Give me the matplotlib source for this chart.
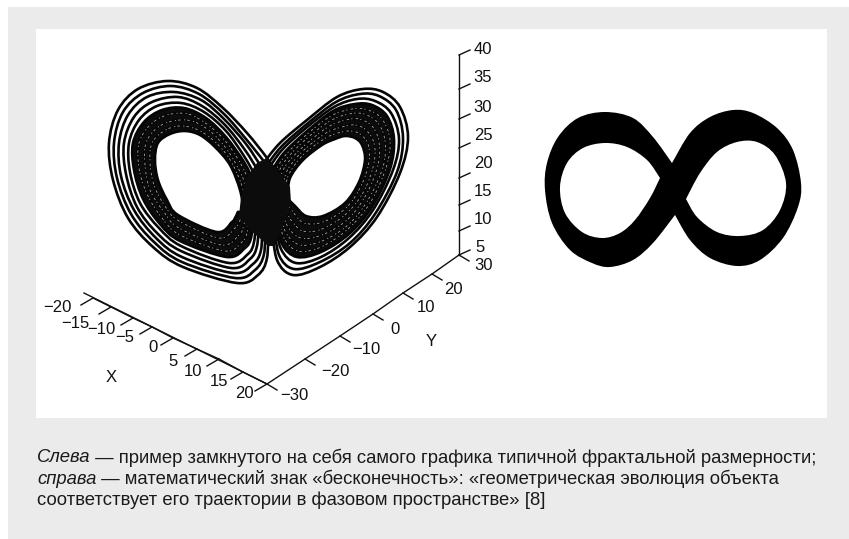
#!/usr/bin/env python
"""Lorenz-style attractor next to an infinity sign, with a Russian caption."""
import matplotlib
matplotlib.use("Agg")
import matplotlib.pyplot as plt
from matplotlib.patches import PathPatch, Polygon, Rectangle
from matplotlib.path import Path

# everything below is read off the picture, in picture pixels
# rings run outer -> inner, each row is one ring
left_x = [
    [268, 267, 258, 237, 183, 153, 128, 113, 109, 118, 138, 168, 197, 223, 247, 267, 282],
    [265, 264, 255, 235, 182, 154, 131, 117, 114, 123, 143, 171, 199, 224, 246, 265, 278],
    [262, 261, 253, 233, 182, 156, 134, 121, 119, 128, 147, 174, 201, 224, 246, 262, 273],
    [259, 257, 250, 231, 181, 157, 137, 126, 124, 134, 152, 178, 202, 225, 245, 260, 269],
    [256, 254, 248, 229, 181, 159, 140, 130, 129, 139, 157, 181, 204, 226, 244, 257, 264],
    [253, 251, 245, 227, 180, 160, 143, 134, 133, 144, 162, 184, 206, 226, 244, 255, 260],
    [249, 247, 242, 225, 180, 162, 147, 139, 139, 150, 167, 188, 208, 227, 243, 252, 255],
    [246, 243, 239, 222, 179, 164, 150, 145, 146, 157, 173, 192, 211, 228, 242, 249, 249],
    [242, 239, 235, 219, 179, 165, 154, 150, 152, 164, 179, 196, 213, 229, 241, 246, 243],
    [238, 235, 232, 217, 178, 167, 158, 155, 158, 170, 185, 200, 215, 230, 240, 243, 238],
]
left_y = [
    [225, 258, 275, 283, 267, 247, 218, 180, 143, 110, 89, 81, 88, 108, 133, 158, 180],
    [224, 254, 270, 278, 262, 242, 214, 178, 143, 112, 93, 86, 94, 114, 139, 163, 183],
    [222, 250, 264, 273, 257, 238, 210, 176, 143, 115, 97, 92, 100, 119, 144, 168, 186],
    [221, 246, 259, 268, 251, 233, 207, 174, 143, 117, 102, 97, 106, 125, 150, 174, 190],
    [220, 242, 254, 263, 246, 228, 203, 172, 143, 120, 106, 103, 112, 131, 156, 179, 193],
    [218, 238, 248, 257, 241, 224, 199, 170, 143, 122, 110, 108, 118, 137, 162, 184, 196],
    [217, 233, 242, 251, 235, 218, 194, 168, 143, 125, 115, 114, 125, 143, 168, 190, 200],
    [215, 228, 235, 245, 228, 212, 190, 165, 143, 128, 121, 121, 132, 151, 176, 197, 204],
    [214, 223, 228, 238, 221, 206, 185, 162, 143, 131, 126, 129, 140, 158, 183, 204, 208],
    [212, 218, 222, 232, 215, 200, 180, 160, 143, 134, 131, 135, 147, 165, 190, 210, 212],
]
right_x = [
    [272, 277, 293, 320, 350, 377, 400, 408, 400, 383, 363, 337, 307, 280, 262],
    [274, 279, 294, 320, 350, 375, 397, 403, 396, 379, 360, 336, 307, 281, 265],
    [275, 281, 296, 321, 349, 373, 393, 399, 391, 375, 357, 334, 306, 282, 267],
    [277, 282, 297, 321, 349, 372, 390, 394, 387, 372, 355, 333, 306, 283, 270],
    [278, 284, 298, 321, 348, 370, 386, 390, 382, 368, 352, 331, 305, 284, 272],
    [280, 286, 300, 322, 348, 368, 383, 385, 378, 364, 349, 330, 305, 285, 275],
    [281, 288, 301, 322, 347, 366, 378, 379, 372, 359, 346, 328, 305, 286, 278],
    [283, 291, 303, 322, 346, 364, 374, 374, 366, 355, 342, 326, 304, 288, 282],
    [285, 293, 304, 323, 346, 361, 369, 368, 360, 350, 338, 324, 303, 289, 285],
    [287, 295, 306, 323, 345, 359, 365, 362, 355, 345, 335, 322, 303, 290, 288],
]
right_y = [
    [225, 260, 275, 267, 247, 217, 173, 137, 107, 92, 89, 97, 120, 143, 165],
    [222, 255, 269, 262, 243, 214, 172, 138, 110, 96, 94, 102, 124, 147, 168],
    [220, 249, 263, 257, 238, 210, 170, 139, 113, 101, 99, 107, 128, 150, 171],
    [217, 244, 257, 252, 234, 207, 169, 139, 116, 105, 104, 111, 132, 154, 174],
    [214, 238, 251, 247, 229, 203, 168, 140, 119, 110, 109, 116, 136, 157, 177],
    [212, 233, 245, 241, 225, 200, 167, 141, 123, 114, 114, 121, 140, 161, 180],
    [208, 227, 238, 235, 220, 195, 165, 142, 126, 119, 120, 127, 145, 165, 184],
    [205, 220, 231, 229, 214, 191, 163, 143, 130, 125, 127, 133, 150, 169, 188],
    [201, 212, 223, 222, 208, 186, 162, 144, 134, 131, 133, 139, 155, 174, 191],
    [198, 206, 216, 216, 203, 182, 160, 145, 138, 136, 139, 145, 160, 178, 195],
]
# dark knot where the two lobes cross
center_knot = [(267, 158), (277, 170), (290, 187), (291, 203), (282, 228), (274, 246), (268, 246), (262, 240),
               (252, 232), (239, 216), (241, 197), (247, 177), (257, 163)]

# infinity sign: two outline halves between the crossing points, then the holes
inf_left = [(672, 163), (653, 137), (633, 118), (605, 112), (578, 118), (558, 137), (547, 163), (545, 190),
            (552, 223), (570, 250), (592, 263), (610, 267), (633, 260), (653, 243), (675, 215)]
inf_right = [(675, 215), (690, 240), (710, 258), (737, 266), (760, 260), (783, 238), (798, 207), (801, 183),
             (793, 150), (777, 128), (753, 113), (733, 110), (710, 117), (690, 133), (672, 163)]
hole_left = [(660, 178), (647, 160), (627, 147), (605, 143), (583, 148), (567, 163), (560, 187), (565, 213),
             (582, 232), (602, 238), (620, 233), (635, 220), (650, 198), (660, 178)]
hole_right = [(686, 199), (700, 173), (717, 152), (737, 142), (757, 142), (775, 155), (786, 183), (780, 210),
              (763, 230), (740, 236), (717, 232), (697, 217), (686, 199)]

x_ticks = [(93, 298), (111, 307), (133, 318), (152, 327), (173, 338), (197, 349), (219, 359), (243, 372), (267, 384)]
x_labels = ["\u221220", "\u221215", "\u221210", "\u22125", "0", "5", "10", "15", "20"]
x_label_pos = [(57, 307), (75, 323), (101, 330), (125, 338), (153, 348), (173, 361), (193, 371), (219, 382), (244, 394)]
y_ticks = [(267, 384), (305, 359), (340, 336), (373, 314), (403, 293), (432, 274), (459, 255)]
y_labels = ["\u221230", "\u221220", "\u221210", "0", "10", "20", "30"]
y_label_pos = [(294, 396), (335, 371), (366, 349), (395, 329), (426, 308), (453, 289), (484, 266)]
z_ticks = [(459, 255), (459, 231), (459, 205), (459, 178), (459, 148), (459, 119), (459, 89), (459, 55)]
z_labels = ["5", "10", "15", "20", "25", "30", "35", "40"]
z_label_pos = [(480, 247), (483, 219), (483, 191), (483, 163), (483, 135), (483, 107), (483, 78), (483, 50)]

caption = [
    [("Слева", "italic"), (" — пример замкнутого на себя самого графика типичной фрактальной размерности;", "normal")],
    [("справа", "italic"), (" — математический знак «бесконечность»: «геометрическая эволюция объекта", "normal")],
    [("соответствует его траектории в фазовом пространстве» [8]", "normal")],
]

FONT = ["Liberation Sans", "DejaVu Sans"]
GREY = "#ebebeb"


def smooth(pts):
    # Catmull-Rom control points, the curve still goes through the read points
    verts = [pts[0]]
    for i in range(len(pts) - 1):
        p0 = pts[max(i - 1, 0)]
        p1, p2 = pts[i], pts[i + 1]
        p3 = pts[min(i + 2, len(pts) - 1)]
        verts.append((p1[0] + (p2[0] - p0[0]) / 6, p1[1] + (p2[1] - p0[1]) / 6))
        verts.append((p2[0] - (p3[0] - p1[0]) / 6, p2[1] - (p3[1] - p1[1]) / 6))
        verts.append(p2)
    return verts


def curve(verts):
    return Path(verts, [Path.MOVETO] + [Path.CURVE4] * (len(verts) - 1))


def ring(xs, ys):
    return smooth(list(zip(xs, ys)))


def band(xs, ys, outer):
    # dense part of a lobe: closed area between one ring and the hole
    top = ring(xs[outer], ys[outer])
    low = ring(xs[-1][::-1], ys[-1][::-1])
    verts = top + [low[0]] + low[1:] + [top[0]]
    codes = [Path.MOVETO] + [Path.CURVE4] * (len(top) - 1) + [Path.LINETO] + [Path.CURVE4] * (len(low) - 1) + [Path.CLOSEPOLY]
    return Path(verts, codes)


def draw_lobe(ax, xs, ys, dense_from):
    ax.add_patch(PathPatch(band(xs, ys, dense_from), fc="#0c0c0c", ec="none"))
    for i in range(len(xs)):
        ax.add_patch(PathPatch(curve(ring(xs[i], ys[i])), fc="none", ec="#050505", lw=1.9, capstyle="round"))
    for i in range(dense_from + 1, len(xs) - 1):
        ax.add_patch(PathPatch(curve(ring(xs[i], ys[i])), fc="none", ec="white", lw=0.6, ls=(i, (1.5, 2.5, 3, 4)), alpha=0.65))


def draw_axis(ax, ticks, dx, dy):
    ax.plot([t[0] for t in ticks], [t[1] for t in ticks], color="#111111", lw=1.0)
    for tx, ty in ticks:
        ax.plot([tx, tx + dx], [ty, ty + dy], color="#111111", lw=1.0)


def draw_labels(ax, labels, positions):
    for label, (lx, ly) in zip(labels, positions):
        ax.text(lx, ly, label, ha="center", va="center", fontsize=12, family=FONT, color="#111111")


def main() -> None:
    fig = plt.figure(figsize=(8.49, 5.39), dpi=100, facecolor="white")
    ax = fig.add_axes([0, 0, 1, 1])
    ax.set_xlim(0, 849)
    ax.set_ylim(539, 0)
    ax.axis("off")

    ax.add_patch(Rectangle((8, 7), 841, 532, fc=GREY, ec="none"))
    ax.add_patch(Rectangle((36, 29), 791, 389, fc="white", ec="none"))

    draw_lobe(ax, left_x, left_y, 5)
    draw_lobe(ax, right_x, right_y, 3)
    ax.add_patch(Polygon(center_knot, closed=True, fc="#0c0c0c", ec="none"))

    # infinity sign
    outline = smooth(inf_left) + smooth(inf_right)[1:]
    ax.add_patch(PathPatch(curve(outline), fc="black", ec="none"))
    ax.add_patch(PathPatch(curve(smooth(hole_left)), fc="white", ec="none"))
    ax.add_patch(PathPatch(curve(smooth(hole_right)), fc="white", ec="none"))

    # axes of the 3d box
    ax.plot([84, 267], [293, 384], color="#111111", lw=1.0)
    draw_axis(ax, x_ticks, -12, 7)
    draw_axis(ax, y_ticks, 10, 6)
    draw_axis(ax, z_ticks, 11, -5)
    draw_labels(ax, x_labels, x_label_pos)
    draw_labels(ax, y_labels, y_label_pos)
    draw_labels(ax, z_labels, z_label_pos)
    ax.text(111, 377, "X", ha="center", va="center", fontsize=12, family=FONT, color="#111111")
    ax.text(431, 341, "Y", ha="center", va="center", fontsize=12, family=FONT, color="#111111")

    # caption, italic and upright runs placed one after the other
    renderer = fig.canvas.get_renderer()
    for row, parts in enumerate(caption):
        x = 37
        for chunk, style in parts:
            t = ax.text(x, 458 + row * 21, chunk, ha="left", va="center", fontsize=13.35, family=FONT,
                        style=style, color="#1a1a1a")
            x = ax.transData.inverted().transform(t.get_window_extent(renderer).get_points())[1][0]

    fig.savefig("out.png", dpi=100)


if __name__ == "__main__":
    main()
